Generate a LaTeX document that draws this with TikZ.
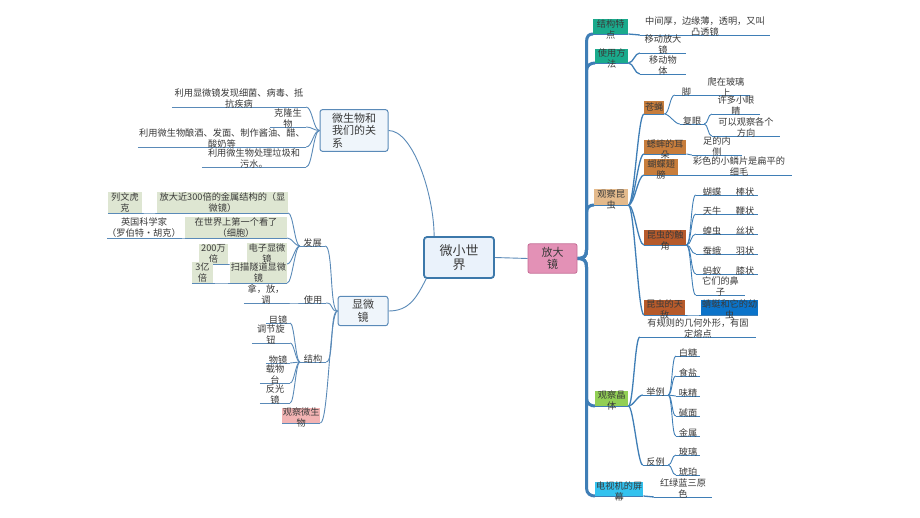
\documentclass[tikz,border=0pt]{standalone}
\usepackage{fontspec}
\setmainfont{Noto Sans CJK SC}
\usetikzlibrary{calc}
\definecolor{txt}{HTML}{3A3A3A}
\definecolor{lblue}{HTML}{5A8AB8}
\definecolor{rblue}{HTML}{3F7EB6}
\definecolor{cB}{HTML}{3C78AA}
\definecolor{cLB}{HTML}{EAF2FB}
\definecolor{sbfill}{HTML}{EFF5FB}
\definecolor{cpink}{HTML}{E391B6}
\definecolor{cpinkD}{HTML}{C56E96}
\definecolor{cteal}{HTML}{1AAA8C}
\definecolor{ctan}{HTML}{E4BA8C}
\definecolor{brA}{HTML}{C77D3C}
\definecolor{brB}{HTML}{B65A2B}
\definecolor{blB}{HTML}{0B73C9}
\definecolor{grn}{HTML}{92CF55}
\definecolor{cyn}{HTML}{33C2EF}
\definecolor{pkL}{HTML}{F2B3B3}
\definecolor{sage}{HTML}{DEE6D2}
\pgfdeclarelayer{bg}\pgfsetlayers{bg,main}
\newcommand\fs{\fontsize{9.2}{11}\selectfont}
\newcommand\cnx[4]{\draw[#1] (#2) .. controls +(#4,0) and +({-1*(#4)},0) .. (#3)}
\tikzset{
 t/.style={font=\fs, text=txt, align=center, inner xsep=0pt, inner ysep=-1.5pt, anchor=south},
 tf/.style={t, fill=sage, inner ysep=0.5pt},
 bx/.style={fill=#1, inner sep=0pt, anchor=south west, minimum height=15pt},
 bt/.style={font=\fs, text=txt, align=center, inner sep=0pt},
 sbox/.style={draw=lblue, fill=sbfill, line width=1pt, rounded corners=2.5pt, font=\fontsize{11}{12.5}\selectfont, text=txt, align=center},
 lc/.style={draw=lblue, line width=0.9pt},
 rc1/.style={draw=rblue, line width=3pt},
 rc2/.style={draw=rblue, line width=1.3pt},
 rc3/.style={draw=rblue, line width=0.9pt},
 ulc/.style={draw=lblue, line width=0.8pt},
 ulr/.style={draw=rblue, line width=0.8pt},
}
\begin{document}
\begin{tikzpicture}[x=1pt,y=-1pt]
\begin{pgfonlayer}{bg}
\fill[white] (0,0) rectangle (920,518);
\end{pgfonlayer}
\useasboundingbox (0,0) rectangle (920,518);

% central
\node[draw=cB, fill=cLB, line width=1.8pt, rounded corners=3pt, minimum width=70pt, minimum height=41pt, font=\fontsize{13}{14.5}\selectfont, text=txt, align=center] (wx) at (459,257.5) {微小世\\界};
\node[draw=cpinkD, fill=cpink, line width=0.8pt, rounded corners=2pt, minimum width=49pt, minimum height=27pt, font=\fontsize{11}{12.5}\selectfont, text=txt, align=center] (fd) at (552.5,258.5) {放大\\镜};
\node[sbox, minimum width=68pt, minimum height=39pt, align=left] (wsw) at (354,130.5) {微生物和\\我们的关\\系};
\node[sbox, minimum width=50pt, minimum height=28pt] (xwj) at (363,311) {显微\\镜};
\coordinate (spu) at (586.5,250);
\coordinate (spd) at (586.5,267);

% right: 结构特点 / 使用方法
\node[bx=cteal, minimum width=35pt] (jg) at (593,34) {};
\node[bt] (jgt) at ([yshift=-3pt]jg.center) {结构特\\点};
\node[t, minimum width=130pt] (jgc) at (705,35) {中间厚，边缘薄，透明，又叫\\凸透镜};
\node[bx=cteal, minimum width=33pt, minimum height=14pt] (sy) at (595,63) {};
\node[bt] (syt) at ([yshift=-3pt]sy.center) {使用方\\法};
\node[t, minimum width=46pt] (sy1) at (663,53) {移动放大\\镜};
\node[t, minimum width=46pt] (sy2) at (663,74) {移动物\\体};

% 观察昆虫
\node[bx=ctan, minimum width=34pt, minimum height=16pt] (gc) at (594,205) {};
\node[bt] (gct) at ([yshift=-3pt]gc.center) {观察昆\\虫};
\node[bx=brA, minimum width=20pt, minimum height=13pt] (cy) at (644,114) {};
\node[bt] (cyt) at (cy.center) {苍蝇};
\node[t, minimum width=23pt] (jiao) at (686.5,95) {脚};
\node[t, minimum width=48pt] (pz) at (726,95) {爬在玻璃\\上};
\node[t, minimum width=24pt] (fy) at (692,124) {复眼};
\node[t, minimum width=48pt] (xd) at (736,114) {许多小眼\\睛};
\node[t, minimum width=68pt] (kg) at (746,136) {可以观察各个\\方向};
\node[bx=brA, minimum width=42pt, minimum height=14pt] (xs) at (644,154) {};
\node[bt] (xst) at ([yshift=-3pt]xs.center) {蟋蟀的耳\\朵};
\node[t, minimum width=50pt] (zn) at (717,155) {足的内\\侧};
\node[bx=brA, minimum width=34pt, minimum height=16pt] (hd) at (644,175) {};
\node[bt] (hdt) at ([yshift=-3pt]hd.center) {蝴蝶翅\\膀};
\node[t, minimum width=106pt] (xm) at (739,175) {彩色的小鳞片是扁平的\\细毛};
\node[bx=brB, minimum width=42pt, minimum height=15pt] (cj) at (644,245) {};
\node[bt] (cjt) at ([yshift=-3pt]cj.center) {昆虫的触\\角};
\node[t, minimum width=32pt] (i1) at (712,195) {蝴蝶};
\node[t, minimum width=26pt] (v1) at (745,195) {棒状};
\node[t, minimum width=32pt] (i2) at (712,214) {天牛};
\node[t, minimum width=26pt] (v2) at (745,214) {鞭状};
\node[t, minimum width=32pt] (i3) at (712,234) {蝗虫};
\node[t, minimum width=26pt] (v3) at (745,234) {丝状};
\node[t, minimum width=32pt] (i4) at (712,254) {蚕蛾};
\node[t, minimum width=26pt] (v4) at (745,254) {羽状};
\node[t, minimum width=32pt] (i5) at (712,274) {蚂蚁};
\node[t, minimum width=26pt] (v5) at (745,274) {膝状};
\node[t, minimum width=49pt] (i6) at (720.5,295) {它们的鼻\\子};
\node[bx=brB, minimum width=41pt, minimum height=15pt] (td) at (644,315) {};
\node[bt] (tdt) at ([yshift=-2.5pt]td.center) {昆虫的天\\敌};
\node[bx=blB, minimum width=57pt, minimum height=15pt] (qt) at (701,315) {};
\node[bt] (qtt) at ([yshift=-2.5pt]qt.center) {蜻蜓和它的幼\\虫};

% 观察晶体
\node[bx=grn, minimum width=33pt, minimum height=15pt] (jt) at (595,406) {};
\node[bt] (jtt) at ([yshift=-2.5pt]jt.center) {观察晶\\体};
\node[t, minimum width=116pt] (gz) at (698,337) {有规则的几何外形，有固\\定熔点};
\node[t, minimum width=25pt] (jl) at (655.5,395) {举例};
\node[t, minimum width=25pt] (fl) at (655.5,465) {反例};
\node[t, minimum width=24pt] (e1) at (688,356) {白糖};
\node[t, minimum width=24pt] (e2) at (688,376) {食盐};
\node[t, minimum width=24pt] (e3) at (688,396) {味精};
\node[t, minimum width=24pt] (e4) at (688,416) {碱面};
\node[t, minimum width=24pt] (e5) at (688,436) {金属};
\node[t, minimum width=24pt] (n1) at (688,455) {玻璃};
\node[t, minimum width=24pt] (n2) at (688,475) {琥珀};

% 电视机的屏幕
\node[bx=cyn, minimum width=48pt, minimum height=14pt] (ds) at (595,496) {};
\node[bt] (dst) at ([yshift=-2.5pt]ds.center) {电视机的屏\\幕};
\node[t, minimum width=58pt] (hl) at (683,497) {红绿蓝三原\\色};

% left: 微生物和我们的关系
\node[t, minimum width=134pt] (a1) at (239,107) {利用显微镜发现细菌、病毒、抵\\抗疾病};
\node[t, minimum width=36pt] (a2) at (288,127) {克隆生\\物};
\node[t, minimum width=168pt] (a3) at (222,147) {利用微生物酿酒、发面、制作酱油、醋、\\酸奶等};
\node[t, minimum width=104pt] (a4) at (254,167) {利用微生物处理垃圾和\\污水。};

% left: 显微镜
\node[t, minimum width=25pt] (fz) at (312.5,246) {发展};
\node[tf, minimum width=131pt] (f1) at (222.5,213) {放大近300倍的金属结构的（显\\微镜）};
\node[tf, minimum width=34pt] (lw) at (125,213) {列文虎\\克};
\node[tf, minimum width=102pt] (f2) at (236,238) {在世界上第一个看了\\（细胞）};
\node[t, minimum width=72pt, inner ysep=0.5pt] (yk) at (144,238) {英国科学家\\（罗伯特•胡克）};
\node[tf, minimum width=40pt] (f3) at (267,264) {电子显微\\镜};
\node[tf, minimum width=29pt] (wb) at (213.5,264) {200万\\倍};
\node[tf, minimum width=57pt] (f4) at (258.5,283) {扫描隧道显微\\镜};
\node[tf, minimum width=21pt] (yy) at (202.5,283) {3亿\\倍};
\node[t, minimum width=26pt] (syl) at (313,303) {使用};
\node[t, minimum width=44pt] (nfd) at (266,303) {拿，放，\\调};
\node[t, minimum width=26pt] (jgl) at (313,362) {结构};
\node[t, minimum width=24pt] (m1) at (278,323) {目镜};
\node[t, minimum width=38pt] (m2) at (271,343) {调节旋\\钮};
\node[t, minimum width=24pt] (m3) at (278,363) {物镜};
\node[t, minimum width=30pt] (m4) at (275,383) {载物\\台};
\node[t, minimum width=30pt] (m5) at (275,403) {反光\\镜};
\node[bx=pkL, minimum width=38pt, minimum height=15pt] (gw) at (282,423) {};
\node[bt] (gwt) at ([yshift=-2.5pt]gw.center) {观察微生\\物};

\begin{pgfonlayer}{bg}
% underlines
\foreach \n in {a1,a2,a3,a4,fz,f1,lw,f2,yk,f3,wb,f4,yy,syl,nfd,jgl,m1,m2,m3,m4,m5,gw}
  {\draw[ulc] (\n.south west) -- (\n.south east);}
\foreach \n in {jg,jgc,sy,sy1,sy2,gc,cy,jiao,pz,fy,xd,kg,xs,zn,hd,xm,cj,i1,v1,i2,v2,i3,v3,i4,v4,i5,v5,i6,td,qt,jt,gz,jl,fl,e1,e2,e3,e4,e5,n1,n2,ds,hl}
  {\draw[ulr] (\n.south west) -- (\n.south east);}
% central links
\draw[lc] (wx.east) -- (fd.west);
\draw[lc] ([xshift=11pt]wx.north west) .. controls +(0,-40) and +(25,0) .. (wsw.east);
\draw[lc] ([xshift=3pt]wx.south west) .. controls +(-10,20) and +(20,0) .. (xwj.east);
% right trunk
\foreach \n in {jg,sy,gc} {\draw[rc1] (fd.east) .. controls +(7,0) and +(0,6) .. (spu) -- ($(spu |- \n.south west)+(0,8)$) .. controls +(0,-6) and +(-4,0) .. (\n.south west);}
\foreach \n in {jt,ds} {\draw[rc1] (fd.east) .. controls +(7,0) and +(0,-6) .. (spd) -- ($(spd |- \n.south west)+(0,-8)$) .. controls +(0,6) and +(-4,0) .. (\n.south west);}
% right level 2
\cnx{rc2}{jg.south east}{jgc.south west}{5};
\cnx{rc2}{sy.south east}{sy1.south west}{5};
\cnx{rc2}{sy.south east}{sy2.south west}{5};
\foreach \n in {cy,xs,hd,cj,td} {\cnx{rc2}{gc.south east}{\n.south west}{6};}
\foreach \n in {gz,jl,fl} {\cnx{rc2}{jt.south east}{\n.south west}{5};}
\cnx{rc2}{ds.south east}{hl.south west}{5};
% right level 3
\cnx{rc3}{cy.south east}{jiao.south west}{5};
\cnx{rc3}{cy.south east}{fy.south west}{5};
\cnx{rc3}{jiao.south east}{pz.south west}{2};
\cnx{rc3}{fy.south east}{xd.south west}{4};
\cnx{rc3}{fy.south east}{kg.south west}{4};
\cnx{rc3}{xs.south east}{zn.south west}{3};
\cnx{rc3}{hd.south east}{xm.south west}{3};
\foreach \n in {i1,i2,i3,i4,i5,i6} {\cnx{rc3}{cj.south east}{\n.south west}{5};}
\foreach \n in {1,2,3,4,5} {\cnx{rc3}{i\n.south east}{v\n.south west}{2};}
\cnx{rc3}{td.south east}{qt.south west}{5};
\foreach \n in {e1,e2,e3,e4,e5} {\cnx{rc3}{jl.south east}{\n.south west}{4};}
\foreach \n in {n1,n2} {\cnx{rc3}{fl.south east}{\n.south west}{4};}
% left
\foreach \n in {a1,a2,a3,a4} {\cnx{lc}{wsw.west}{\n.south east}{-6};}
\foreach \n in {fz,syl,jgl,gw} {\cnx{lc}{xwj.west}{\n.south east}{-8};}
\foreach \n in {f1,f2,f3,f4} {\cnx{lc}{fz.south west}{\n.south east}{-5};}
\cnx{lc}{f1.south west}{lw.south east}{-3};
\cnx{lc}{f2.south west}{yk.south east}{-3};
\cnx{lc}{f3.south west}{wb.south east}{-3};
\cnx{lc}{f4.south west}{yy.south east}{-3};
\cnx{lc}{syl.south west}{nfd.south east}{-4};
\foreach \n in {m1,m2,m3,m4,m5} {\cnx{lc}{jgl.south west}{\n.south east}{-4};}
\end{pgfonlayer}
\end{tikzpicture}
\end{document}
